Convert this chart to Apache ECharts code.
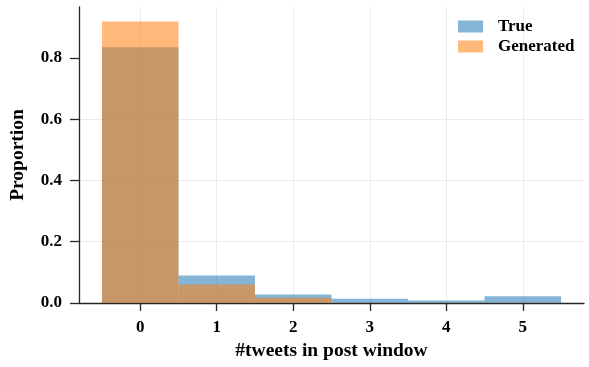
<!DOCTYPE html>
<html><head><meta charset="utf-8">
<script src="https://cdn.jsdelivr.net/npm/echarts@6/dist/echarts.min.js"></script>
<style>html,body{margin:0;padding:0;background:#fff}#c{width:589px;height:367px}</style>
</head><body><div id="c"></div>
<script>
const categories = [0, 1, 2, 3, 4, 5];
const trueValues = [0.835, 0.090, 0.028, 0.014, 0.008, 0.022];
const generatedValues = [0.919, 0.060, 0.017, 0.001, 0.0005, 0.0005];
const xTicks = [0, 1, 2, 3, 4, 5];
const yTicks = [0, 0.2, 0.4, 0.6, 0.8];

const FONT = '"Liberation Serif", "Times New Roman", serif';
const AX = '#262626';

function renderBar(params, api) {
  const x = api.value(0), y = api.value(1);
  const p0 = api.coord([x - 0.5, y]);
  const p1 = api.coord([x + 0.5, 0]);
  return {
    type: 'rect',
    shape: { x: p0[0], y: p0[1], width: p1[0] - p0[0], height: p1[1] - p0[1] },
    style: { fill: api.visual('color') }
  };
}

const chart = echarts.init(document.getElementById('c'), null, { renderer: 'canvas' });
chart.setOption({
  animation: false,
  textStyle: { fontFamily: FONT },
  grid: { left: 79, right: 5, top: 7, bottom: 64 },
  legend: {
    orient: 'vertical', left: 458, top: 18, padding: 0,
    itemWidth: 25, itemHeight: 12, itemGap: 3,
    icon: 'rect',
    textStyle: { fontFamily: FONT, fontWeight: 'bold', fontSize: 17, color: '#000', padding: [0, 0, 0, 10] },
    data: ['True', 'Generated']
  },
  xAxis: {
    type: 'value', min: -0.8, max: 5.8,
    name: '#tweets in post window', nameLocation: 'middle', nameGap: 35,
    nameTextStyle: { fontFamily: FONT, fontWeight: 'bold', fontSize: 19.5, color: '#000' },
    axisLine: { show: true, onZero: false, lineStyle: { color: AX, width: 1.3 } },
    axisTick: { show: true, length: 8, customValues: xTicks, lineStyle: { color: AX, width: 1.3 } },
    axisLabel: { customValues: xTicks, margin: 16, fontFamily: FONT, fontWeight: 'bold', fontSize: 17, color: '#000' },
    splitLine: { show: true, lineStyle: { color: '#ebebeb', width: 1 } }
  },
  yAxis: {
    type: 'value', min: 0, max: 0.966,
    name: 'Proportion', nameLocation: 'middle', nameGap: 51,
    nameTextStyle: { fontFamily: FONT, fontWeight: 'bold', fontSize: 19.5, color: '#000' },
    axisLine: { show: true, onZero: false, lineStyle: { color: AX, width: 1.3 } },
    axisTick: { show: true, length: 9, customValues: yTicks, lineStyle: { color: AX, width: 1.3 } },
    axisLabel: { customValues: yTicks, margin: 17, fontFamily: FONT, fontWeight: 'bold', fontSize: 17, color: '#000',
      formatter: v => v.toFixed(1) },
    splitLine: { show: true, showMaxLine: false, lineStyle: { color: '#ebebeb', width: 1 } }
  },
  series: [
    { name: 'True', type: 'custom', renderItem: renderBar,
      itemStyle: { color: 'rgba(31,119,180,0.55)' },
      encode: { x: 0, y: 1 },
      data: categories.map((c, i) => [c, trueValues[i]]) },
    { name: 'Generated', type: 'custom', renderItem: renderBar,
      itemStyle: { color: 'rgba(255,127,14,0.55)' },
      encode: { x: 0, y: 1 },
      data: categories.map((c, i) => [c, generatedValues[i]]) }
  ]
});
</script></body></html>
